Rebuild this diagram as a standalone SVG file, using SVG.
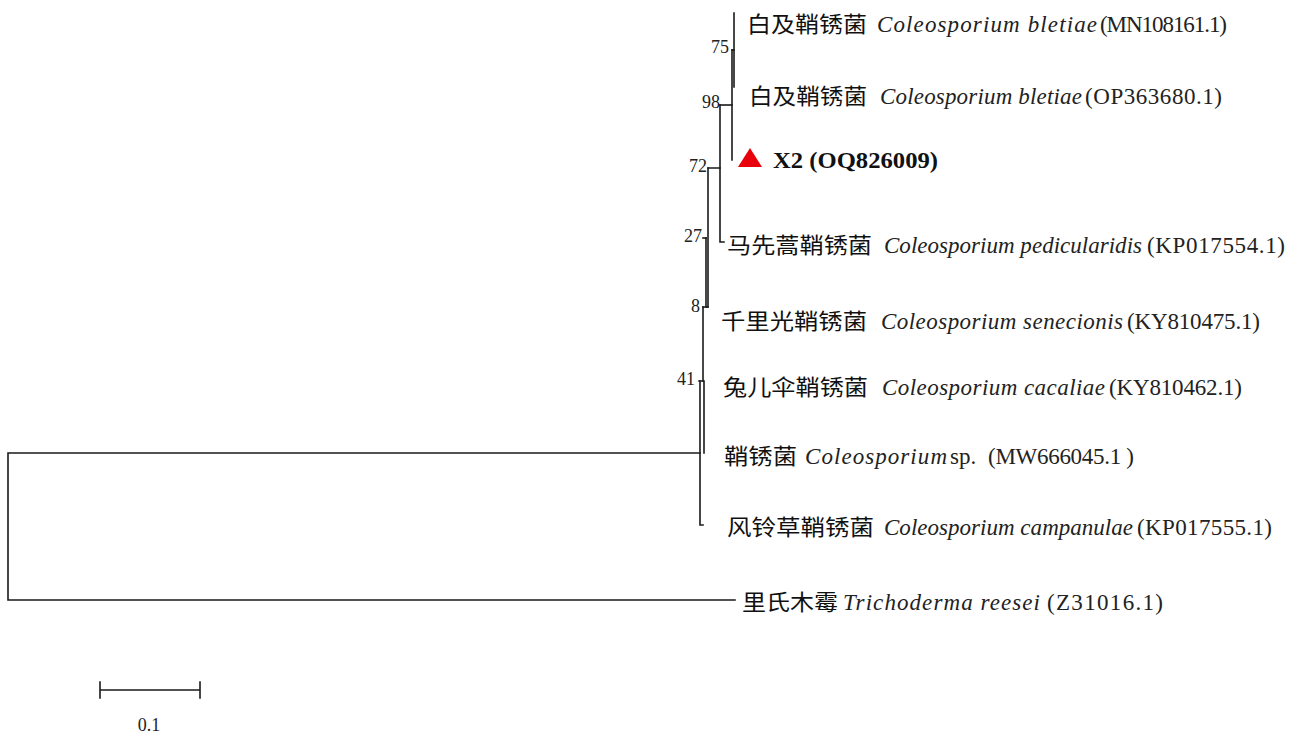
<svg xmlns="http://www.w3.org/2000/svg" width="1298" height="734" viewBox="0 0 1298 734">
<style>
.br{fill:none;stroke:#1a1a1a;stroke-width:1.6;stroke-linecap:square}
.cn{font-family:"Noto Sans CJK SC","Noto Sans",sans-serif;font-size:22px;font-weight:400;fill:#111}
.it{font-family:"Liberation Serif",serif;font-style:italic;font-size:23px;fill:#222}
.ac{font-family:"Liberation Serif",serif;font-size:23px;fill:#222}
.bs{font-family:"Liberation Serif",serif;font-size:18px;fill:#222;text-anchor:end}
.x2{font-family:"Liberation Serif",serif;font-size:23px;font-weight:bold;fill:#111}
</style>
<rect width="1298" height="734" fill="#fff"/>
<g id="connectors">
<path class="br" d="M735,600 H8 V453 H700"/>
<path class="br" d="M700,381 V525 H703"/>
<path class="br" d="M699,381 H704 V453"/>
<path class="br" d="M703,307 V381"/>
<path class="br" d="M703,307 H708"/>
<path class="br" d="M706,238 V307"/>
<path class="br" d="M703,238 H706"/>
<path class="br" d="M708,168 V307"/>
<path class="br" d="M708,168 H720 V242 H724"/>
<path class="br" d="M720,105 V168"/>
<path class="br" d="M720,105 H732"/>
<path class="br" d="M732,50 V160"/>
<path class="br" d="M732,50 H734"/>
<path class="br" d="M734,13 V87"/>
</g>
<g id="bootstrap">
<text class="bs" x="729" y="53">75</text>
<text class="bs" x="720" y="108">98</text>
<text class="bs" x="707" y="172">72</text>
<text class="bs" x="702" y="242">27</text>
<text class="bs" x="700" y="312">8</text>
<text class="bs" x="695" y="385">41</text>
</g>
<g id="tip-MN108161">
<text class="cn" x="747" y="32" textLength="120" lengthAdjust="spacingAndGlyphs">白及鞘锈菌</text>
<text class="it" x="877" y="32" textLength="220" lengthAdjust="spacing">Coleosporium bletiae</text>
<text class="ac" x="1100" y="32" textLength="127" lengthAdjust="spacing">(MN108161.1)</text>
</g>
<g id="tip-OP363680">
<text class="cn" x="749" y="104" textLength="118" lengthAdjust="spacingAndGlyphs">白及鞘锈菌</text>
<text class="it" x="880" y="104" textLength="202" lengthAdjust="spacing">Coleosporium bletiae</text>
<text class="ac" x="1085" y="104" textLength="137" lengthAdjust="spacing">(OP363680.1)</text>
</g>
<g id="tip-X2">
<polygon points="738,167 750,148 762,167" fill="#e8000b"/>
<text class="x2" x="773" y="168" textLength="165" lengthAdjust="spacingAndGlyphs">X2 (OQ826009)</text>
</g>
<g id="tip-KP017554">
<text class="cn" x="727" y="253" textLength="145" lengthAdjust="spacingAndGlyphs">马先蒿鞘锈菌</text>
<text class="it" x="884" y="253" textLength="258" lengthAdjust="spacing">Coleosporium pedicularidis</text>
<text class="ac" x="1147" y="253" textLength="138" lengthAdjust="spacing">(KP017554.1)</text>
</g>
<g id="tip-KY810475">
<text class="cn" x="721" y="329" textLength="146" lengthAdjust="spacingAndGlyphs">千里光鞘锈菌</text>
<text class="it" x="881" y="329" textLength="242" lengthAdjust="spacing">Coleosporium senecionis</text>
<text class="ac" x="1127" y="329" textLength="133" lengthAdjust="spacing">(KY810475.1)</text>
</g>
<g id="tip-KY810462">
<text class="cn" x="723" y="395" textLength="145" lengthAdjust="spacingAndGlyphs">兔儿伞鞘锈菌</text>
<text class="it" x="882" y="395" textLength="223" lengthAdjust="spacing">Coleosporium cacaliae</text>
<text class="ac" x="1109" y="395" textLength="133" lengthAdjust="spacing">(KY810462.1)</text>
</g>
<g id="tip-MW666045">
<text class="cn" x="724" y="464" textLength="73" lengthAdjust="spacingAndGlyphs">鞘锈菌</text>
<text class="it" x="805" y="464" textLength="142" lengthAdjust="spacing">Coleosporium</text>
<text class="ac" x="950" y="464">sp.</text>
<text class="ac" x="988" y="464" textLength="146" lengthAdjust="spacing">(MW666045.1 )</text>
</g>
<g id="tip-KP017555">
<text class="cn" x="727" y="535" textLength="147" lengthAdjust="spacingAndGlyphs">风铃草鞘锈菌</text>
<text class="it" x="884" y="535" textLength="249" lengthAdjust="spacing">Coleosporium campanulae</text>
<text class="ac" x="1137" y="535" textLength="135" lengthAdjust="spacing">(KP017555.1)</text>
</g>
<g id="tip-Z31016">
<text class="cn" x="742" y="610" textLength="96" lengthAdjust="spacingAndGlyphs">里氏木霉</text>
<text class="it" x="843" y="610" textLength="197" lengthAdjust="spacing">Trichoderma reesei</text>
<text class="ac" x="1047" y="610" textLength="116" lengthAdjust="spacing">(Z31016.1)</text>
</g>
<g id="scale-bar">
<path class="br" d="M100,690 H200 M100,682 V698 M200,682 V698"/>
<text x="149" y="731" style="font-family:'Liberation Serif',serif;font-size:18px;fill:#222;text-anchor:middle">0.1</text>
</g>
</svg>
